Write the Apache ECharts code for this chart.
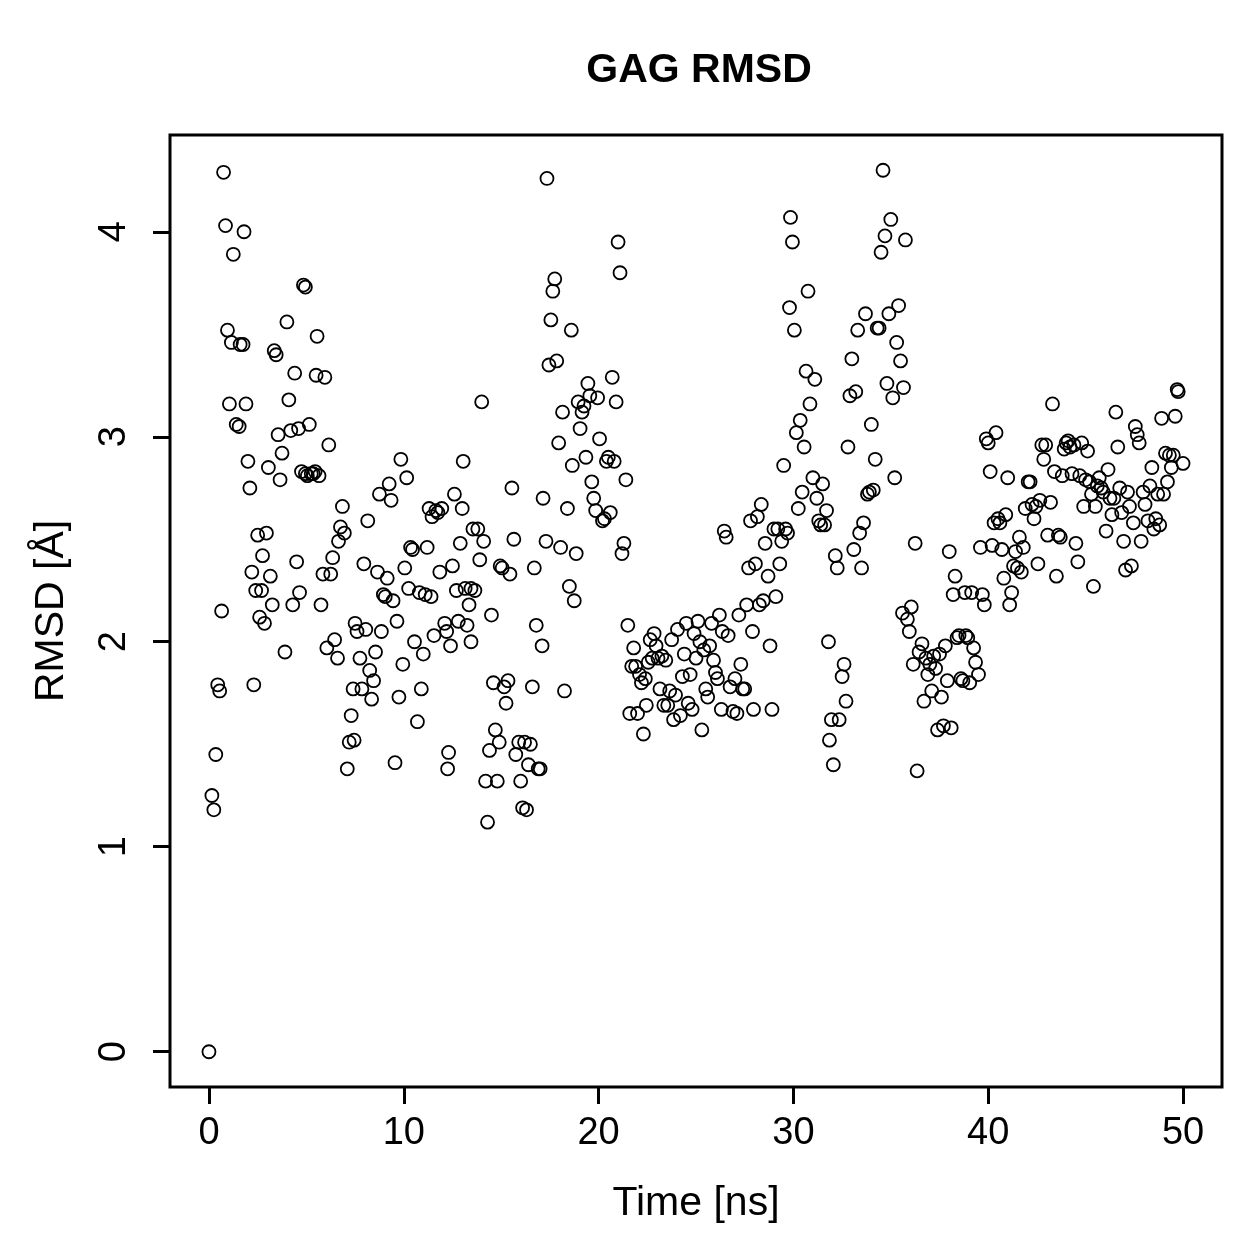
<!DOCTYPE html>
<html>
<head>
<meta charset="utf-8">
<script src="https://cdn.jsdelivr.net/npm/echarts@6/dist/echarts.min.js"></script>
<style>html,body{margin:0;padding:0;background:#fff}#chart{width:1259px;height:1259px}</style>
</head>
<body>
<div id="chart"></div>
<script>
const chartTitle = 'GAG RMSD';
const xName = 'Time [ns]';
const yName = 'RMSD [Å]';
const xTicks = [0, 10, 20, 30, 40, 50];
const yTicks = [0, 1, 2, 3, 4];

const timeNs = [
0.0,0.15,0.25,0.35,0.45,0.55,0.65,0.75,0.85,0.95,1.05,1.15,1.25,1.4,1.55,1.6,1.75,1.8,1.9,2.0,
2.1,2.2,2.3,2.4,2.5,2.6,2.7,2.75,2.85,2.95,3.05,3.15,3.25,3.35,3.45,3.55,3.65,3.75,3.9,4.0,
4.1,4.2,4.3,4.4,4.5,4.6,4.65,4.75,4.85,4.95,4.95,5.05,5.15,5.25,5.35,5.45,5.55,5.5,5.65,5.75,
5.85,5.95,6.05,6.15,6.25,6.35,6.45,6.6,6.65,6.75,6.85,6.95,7.1,7.2,7.3,7.4,7.45,7.5,7.6,7.75,
7.85,7.95,8.05,8.15,8.25,8.35,8.45,8.55,8.65,8.75,8.85,8.95,9.05,9.15,9.25,9.35,9.45,9.55,9.65,9.75,
9.85,9.95,10.05,10.15,10.25,10.35,10.45,10.55,10.7,10.8,10.9,11.0,11.1,11.2,11.3,11.4,11.45,11.55,11.65,11.75,
11.85,11.95,12.1,12.2,12.25,12.3,12.4,12.5,12.6,12.7,12.8,12.9,13.0,13.05,13.15,13.25,13.35,13.45,13.45,13.55,
13.65,13.8,13.9,14.0,14.1,14.2,14.3,14.4,14.5,14.6,14.7,14.8,14.9,14.95,15.05,15.15,15.25,15.35,15.45,15.55,
15.65,15.75,15.9,16.0,16.1,16.2,16.3,16.4,16.5,16.6,16.7,16.8,16.9,17.0,17.1,17.15,17.3,17.35,17.45,17.55,
17.65,17.75,17.85,17.95,18.05,18.15,18.25,18.4,18.5,18.6,18.65,18.75,18.85,18.95,19.05,19.15,19.25,19.35,19.45,19.55,
19.65,19.75,19.85,19.95,20.05,20.2,20.3,20.4,20.5,20.6,20.7,20.8,20.9,21.0,21.1,21.2,21.3,21.4,21.5,21.6,
21.7,21.8,21.9,22.0,22.1,22.2,22.3,22.4,22.45,22.55,22.65,22.75,22.85,22.95,23.05,23.15,23.25,23.35,23.45,23.55,
23.65,23.75,23.85,23.95,24.05,24.2,24.3,24.4,24.5,24.6,24.7,24.8,24.9,25.0,25.1,25.2,25.3,25.4,25.5,25.6,
25.7,25.8,25.9,26.0,26.1,26.2,26.3,26.35,26.45,26.55,26.65,26.75,26.9,27.0,27.1,27.2,27.3,27.4,27.5,27.6,
27.7,27.8,27.9,27.95,28.05,28.15,28.25,28.35,28.45,28.55,28.7,28.8,28.9,29.0,29.1,29.2,29.3,29.4,29.5,29.6,
29.7,29.8,29.85,29.95,30.05,30.15,30.25,30.35,30.45,30.55,30.65,30.75,30.85,31.0,31.1,31.2,31.3,31.4,31.5,31.6,
31.7,31.8,31.85,31.95,32.05,32.15,32.25,32.35,32.5,32.6,32.7,32.8,32.9,33.0,33.1,33.2,33.3,33.4,33.5,33.6,
33.7,33.8,33.9,34.0,34.1,34.2,34.3,34.4,34.5,34.6,34.7,34.8,34.9,35.0,35.1,35.2,35.3,35.4,35.5,35.6,
35.65,35.75,35.85,35.95,36.05,36.15,36.25,36.35,36.45,36.6,36.7,36.8,36.9,37.0,37.1,37.2,37.3,37.4,37.5,37.6,
37.7,37.8,37.9,38.0,38.1,38.2,38.3,38.4,38.5,38.6,38.7,38.8,38.85,38.95,39.05,39.15,39.25,39.35,39.5,39.6,
39.7,39.8,39.9,40.0,40.1,40.2,40.3,40.4,40.5,40.6,40.7,40.8,40.9,41.0,41.1,41.2,41.3,41.4,41.5,41.6,
41.7,41.8,41.9,42.05,42.15,42.25,42.35,42.45,42.55,42.65,42.75,42.85,42.95,43.05,43.2,43.3,43.4,43.5,43.6,43.7,
43.8,43.9,44.0,44.1,44.2,44.3,44.4,44.5,44.6,44.7,44.8,44.9,45.0,45.1,45.2,45.3,45.4,45.5,45.6,45.7,
45.8,45.9,46.05,46.15,46.25,46.35,46.45,46.55,46.65,46.75,46.85,46.95,47.05,47.15,47.25,47.35,47.45,47.55,47.65,47.75,
47.85,47.95,48.05,48.2,48.3,48.4,48.5,48.6,48.7,48.8,48.9,49.0,49.1,49.2,49.3,49.4,49.5,49.6,49.7,49.75,
50.0
];

const rmsd = [
0.00,1.25,1.18,1.45,1.79,1.76,2.15,4.29,4.03,3.52,3.16,3.46,3.89,3.06,3.05,3.45,3.45,4.00,3.16,2.88,
2.75,2.34,1.79,2.25,2.52,2.12,2.25,2.42,2.09,2.53,2.85,2.32,2.18,3.42,3.40,3.01,2.79,2.92,1.95,3.56,
3.18,3.03,2.18,3.31,2.39,3.04,2.24,2.83,3.74,3.73,2.82,2.81,3.06,2.82,2.82,2.83,3.49,3.30,2.81,2.18,
2.33,3.29,1.97,2.96,2.33,2.41,2.01,1.92,2.49,2.56,2.66,2.53,1.38,1.51,1.64,1.77,1.52,2.09,2.05,1.92,
1.77,2.38,2.06,2.59,1.86,1.72,1.81,1.95,2.34,2.72,2.05,2.23,2.22,2.31,2.77,2.69,2.20,1.41,2.10,1.73,
2.89,1.89,2.36,2.80,2.26,2.46,2.45,2.00,1.61,2.24,1.77,1.94,2.23,2.46,2.65,2.22,2.61,2.03,2.64,2.63,
2.34,2.65,2.09,2.05,1.38,1.46,1.98,2.37,2.72,2.25,2.10,2.48,2.65,2.88,2.26,2.08,2.18,2.26,2.00,2.55,
2.25,2.55,2.40,3.17,2.49,1.32,1.12,1.47,2.13,1.80,1.57,1.32,1.51,2.37,2.36,1.78,1.70,1.81,2.33,2.75,
2.50,1.45,1.51,1.32,1.19,1.51,1.18,1.40,1.50,1.78,2.36,2.08,1.38,1.38,1.98,2.70,2.49,4.26,3.35,3.57,
3.71,3.77,3.37,2.97,2.46,3.12,1.76,2.65,2.27,3.52,2.86,2.20,2.43,3.17,3.04,3.12,3.15,2.90,3.26,3.20,
2.78,2.70,2.64,3.19,2.99,2.59,2.60,2.88,2.90,2.63,3.29,2.88,3.17,3.95,3.80,2.43,2.48,2.79,2.08,1.65,
1.88,1.97,1.88,1.65,1.84,1.80,1.55,1.82,1.69,1.90,2.01,1.92,2.04,1.98,1.92,1.77,1.93,1.69,1.91,1.69,
1.76,2.01,1.62,1.74,2.06,1.64,1.83,1.94,2.09,1.70,1.84,1.67,2.04,1.92,2.10,2.00,1.57,1.96,1.77,1.73,
1.98,2.09,1.91,1.85,1.82,2.13,1.67,2.05,2.54,2.51,2.03,1.78,1.66,1.82,1.65,2.13,1.89,1.77,1.77,2.18,
2.36,2.59,2.05,1.67,2.38,2.61,2.18,2.67,2.20,2.48,2.32,1.98,1.67,2.55,2.22,2.55,2.38,2.49,2.86,2.55,
2.53,3.63,4.07,3.95,3.52,3.02,2.65,3.08,2.73,2.95,3.32,3.71,3.16,2.80,3.28,2.70,2.59,2.57,2.77,2.57,
2.64,2.00,1.52,1.62,1.40,2.42,2.36,1.62,1.83,1.89,1.71,2.95,3.20,3.38,2.45,3.22,3.52,2.53,2.36,2.58,
3.60,2.72,2.73,3.06,2.74,2.89,3.53,3.53,3.90,4.30,3.98,3.26,3.60,4.06,3.19,2.80,3.46,3.64,3.37,2.14,
3.24,3.96,2.11,2.05,2.17,1.89,2.48,1.37,1.95,1.99,1.71,1.92,1.84,1.89,1.76,1.93,1.87,1.57,1.94,1.73,
1.59,1.98,1.81,2.44,1.58,2.23,2.32,2.02,2.03,1.82,1.81,2.24,2.03,2.02,1.80,2.24,1.97,1.90,1.84,2.46,
2.23,2.18,2.99,2.97,2.83,2.47,2.58,3.02,2.60,2.58,2.45,2.31,2.62,2.80,2.18,2.24,2.37,2.44,2.36,2.51,
2.34,2.46,2.65,2.78,2.78,2.67,2.60,2.66,2.38,2.69,2.96,2.89,2.96,2.52,2.68,3.16,2.83,2.32,2.52,2.51,
2.81,2.94,2.97,2.98,2.95,2.82,2.96,2.48,2.39,2.81,2.97,2.66,2.79,2.93,2.78,2.72,2.27,2.66,2.76,2.80,
2.75,2.73,2.54,2.84,2.70,2.62,2.70,3.12,2.95,2.75,2.63,2.49,2.35,2.73,2.66,2.37,2.58,3.05,3.01,2.97,
2.49,2.73,2.67,2.59,2.76,2.85,2.55,2.60,2.72,2.57,3.09,2.72,2.92,2.78,2.91,2.85,2.91,3.10,3.23,3.22,
2.87
];

const points = timeNs.map((t, i) => [t, rmsd[i]]);
const font = '"Liberation Sans", Arial, Helvetica, sans-serif';

const chart = echarts.init(document.getElementById('chart'), null, {renderer: 'canvas'});
chart.setOption({
  animation: false,
  backgroundColor: '#ffffff',
  title: {
    text: chartTitle,
    left: 694,
    top: 45,
    textAlign: 'center',
    textStyle: {fontFamily: font, fontWeight: 'bold', fontSize: 41, color: '#000'}
  },
  grid: {
    left: 170, right: 37, top: 135, bottom: 172,
    show: true, borderColor: '#000', borderWidth: 3, backgroundColor: 'transparent'
  },
  xAxis: {
    type: 'value', min: -2, max: 52,
    name: xName, nameLocation: 'middle', nameGap: 96,
    nameTextStyle: {fontFamily: font, fontSize: 41, color: '#000'},
    axisLine: {show: false, onZero: false},
    splitLine: {show: false},
    axisTick: {show: true, length: 17, inside: false, customValues: xTicks, lineStyle: {color: '#000', width: 3}},
    axisLabel: {customValues: xTicks, margin: 28, fontFamily: font, fontSize: 38, color: '#000'}
  },
  yAxis: {
    type: 'value', min: -0.172, max: 4.472,
    name: yName, nameLocation: 'middle', nameGap: 98, nameRotate: 90,
    nameTextStyle: {fontFamily: font, fontSize: 41, color: '#000'},
    axisLine: {show: false, onZero: false},
    splitLine: {show: false},
    axisTick: {show: true, length: 17, inside: false, customValues: yTicks, lineStyle: {color: '#000', width: 3}},
    axisLabel: {customValues: yTicks, rotate: 90, margin: 36, fontFamily: font, fontSize: 38, color: '#000'}
  },
  series: [{
    type: 'scatter',
    data: points,
    symbol: 'circle',
    symbolSize: 13,
    itemStyle: {color: 'rgba(0,0,0,0)', borderColor: '#000', borderWidth: 1.8, opacity: 1}
  }]
});
</script>
</body>
</html>
